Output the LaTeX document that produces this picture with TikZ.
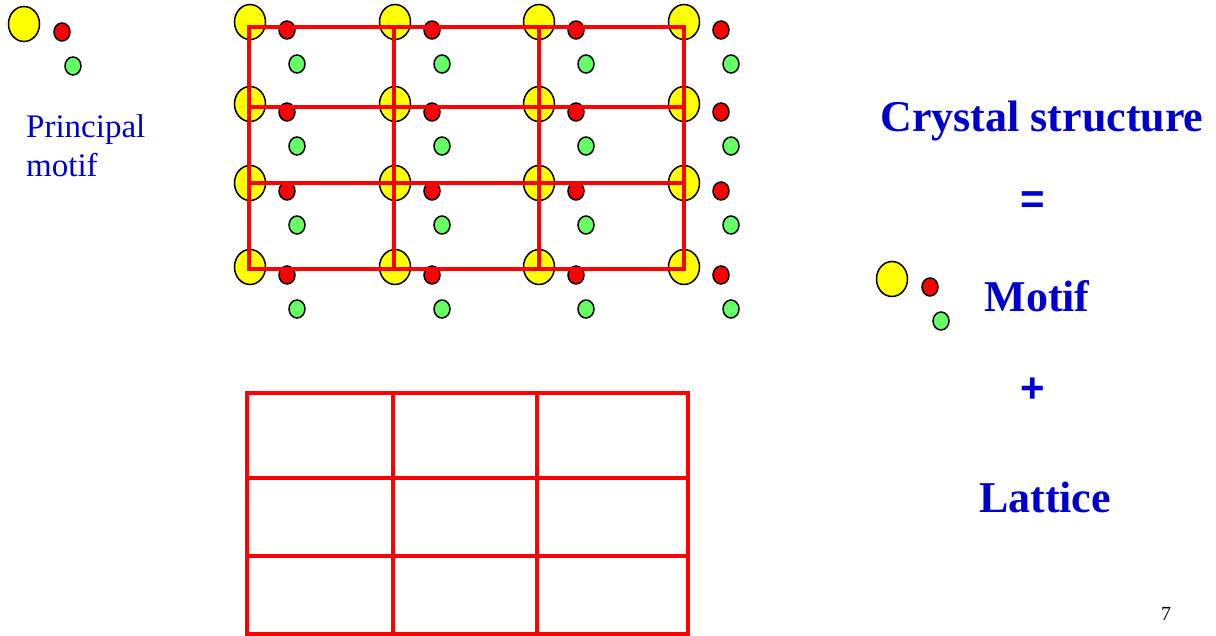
\documentclass[tikz,border=0pt]{standalone}
\usepackage{fontspec}
\setmainfont{Liberation Serif}
\newfontfamily\symfont{Liberation Sans}
\usetikzlibrary{shapes.geometric}
\definecolor{motifblue}{RGB}{0,0,204}
\definecolor{atomyellow}{RGB}{255,255,0}
\definecolor{atomred}{RGB}{255,0,0}
\definecolor{atomgreen}{RGB}{102,255,102}
\definecolor{latred}{RGB}{255,0,0}

\begin{document}
\begin{tikzpicture}[x=1pt,y=-1pt,
  atom/.style={ellipse, draw=black, line width=1.5pt, inner sep=0pt},
  bigatom/.style={atom, fill=atomyellow, minimum width=31pt, minimum height=35pt},
  redatom/.style={atom, fill=atomred, minimum width=16pt, minimum height=18pt},
  greenatom/.style={atom, fill=atomgreen, minimum width=16pt, minimum height=18pt},
  latline/.style={draw=latred, line width=4.5pt, line cap=rect},
  gridline/.style={draw=latred, line width=4pt, line cap=rect},
  smalltext/.style={text=motifblue, inner sep=0pt, font=\fontsize{33}{39}\selectfont},
  bigtext/.style={text=motifblue, inner sep=0pt, font=\fontsize{44}{52}\selectfont\bfseries},
  symtext/.style={text=motifblue, inner sep=0pt, font=\fontsize{42}{50}\selectfont\symfont\bfseries},
  pagenum/.style={text=black, inner sep=0pt, font=\fontsize{20}{24}\selectfont}
]
\useasboundingbox (0,0) rectangle (1216,636);

% principal motif, top left
\node[bigatom]   (pm-y) at (24,24) {};
\node[redatom]   (pm-r) at (62,32) {};
\node[greenatom] (pm-g) at (73,66) {};
\node[smalltext, anchor=base west] (pm-t1) at (26,138) {Principal};
\node[smalltext, anchor=base west] (pm-t2) at (26,177) {motif};

% crystal: motif repeated at every lattice point
\foreach \cx [count=\i] in {250,395,539,684} {
  \foreach \cy [count=\j] in {22,104,183,267} {
    \node[bigatom]   (y-\i-\j) at (\cx,\cy) {};
    \node[redatom]   (r-\i-\j) at (\cx+37,\cy+8) {};
    \node[greenatom] (g-\i-\j) at (\cx+47,\cy+42) {};
  }
}

% lattice laid over the crystal
\foreach \lx [count=\i] in {249,394,539,684} {
  \foreach \ly [count=\j] in {27,107,183,269} {
    \coordinate (L-\i-\j) at (\lx,\ly);
  }
}
\foreach \j in {1,...,4} { \draw[latline] (L-1-\j) -- (L-4-\j); }
\foreach \i in {1,...,4} { \draw[latline] (L-\i-1) -- (L-\i-4); }

% bare lattice below
\foreach \lx [count=\i] in {247,393,537,688} {
  \foreach \ly [count=\j] in {393,478,556,634} {
    \coordinate (B-\i-\j) at (\lx,\ly);
  }
}
\foreach \j in {1,...,4} { \draw[gridline] (B-1-\j) -- (B-4-\j); }
\foreach \i in {1,...,4} { \draw[gridline] (B-\i-1) -- (B-\i-4); }

% equation on the right
\node[bigtext, anchor=base] (crystal) at (1042,132) {Crystal structure};
\node[symtext] (eq) at (1033,203) {=};
\node[bigatom]   (m-y) at (892,279) {};
\node[redatom]   (m-r) at (930,287) {};
\node[greenatom] (m-g) at (941,321) {};
\node[bigtext, anchor=base] (motif) at (1037,312) {Motif};
\node[symtext] (plus) at (1033,390) {+};
\node[bigtext, anchor=base] (lattice) at (1045,512) {Lattice};

\node[pagenum, anchor=base] (page) at (1166,620) {7};
\end{tikzpicture}
\end{document}
